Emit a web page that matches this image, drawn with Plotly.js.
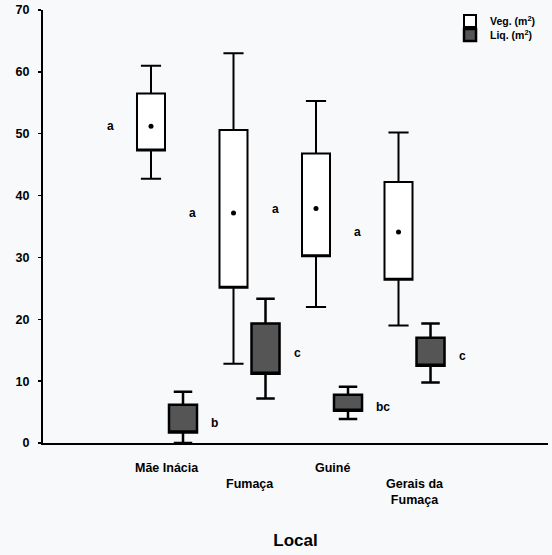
<!DOCTYPE html>
<html>
<head>
<meta charset="utf-8">
<script src="https://cdn.plot.ly/plotly-3.0.1.min.js"></script>
<style>html,body{margin:0;padding:0;background:#f8f9fb;}</style>
</head>
<body>
<div id="chart" style="width:552px;height:555px;"></div>
<script>
// ---- data ----
const categories = ['Mãe Inácia', 'Fumaça', 'Guiné', 'Gerais da Fumaça'];
const tickLabels = ['Mãe Inácia', 'Fumaça', 'Guiné', 'Gerais da<br>Fumaça'];
const tickRow    = [0, 1, 0, 1];   // staggered label rows

const vegUpper = [61.0, 63.0, 55.3, 50.2];
const vegQ3    = [56.5, 50.6, 46.8, 42.2];
const vegQ1    = [47.3, 25.1, 30.2, 26.4];
const vegLower = [42.7, 12.8, 22.0, 19.0];
const vegMean  = [51.2, 37.2, 37.9, 34.1];

const liqUpper = [8.3, 23.3, 9.1, 19.3];
const liqQ3    = [6.2, 19.3, 7.8, 17.0];
const liqQ1    = [1.7, 11.2, 5.2, 12.5];
const liqLower = [0.0, 7.2, 3.9, 9.8];

const vegLetters = ['a', 'a', 'a', 'a'];
const liqLetters = ['b', 'c', 'bc', 'c'];

// ---- layout helpers ----
const idx = categories.map((_, i) => i);
const boxgap = 0.224, boxgroupgap = 0.125;
const off = (1 - boxgap) / 4;
const font = 'Liberation Sans, Arial, sans-serif';

const veg = {
  type: 'box', name: 'Veg. (m<sup>2</sup>)', x: idx, legend: 'legend',
  q1: vegQ1, median: vegQ1, q3: vegQ3, lowerfence: vegLower, upperfence: vegUpper,
  fillcolor: '#ffffff', line: {color: '#000', width: 2}, whiskerwidth: 0.72,
  boxpoints: false, hoverinfo: 'skip'
};
const liq = {
  type: 'box', name: 'Liq. (m<sup>2</sup>)', x: idx, legend: 'legend2',
  q1: liqQ1, median: liqQ1, q3: liqQ3, lowerfence: liqLower, upperfence: liqUpper,
  fillcolor: '#555555', line: {color: '#000', width: 2.5}, whiskerwidth: 0.66,
  boxpoints: false, hoverinfo: 'skip'
};
const means = {
  type: 'scatter', mode: 'markers', showlegend: false,
  x: idx.map(i => i - off), y: vegMean,
  marker: {color: '#000', size: 5, symbol: 'circle'}, hoverinfo: 'skip'
};

const annotations = [];
idx.forEach(i => {
  annotations.push({x: i - off, y: vegMean[i], xref: 'x', yref: 'y', text: vegLetters[i],
    showarrow: false, xshift: -41, font: {family: font, size: 12, color: '#000', weight: 'bold'}});
  annotations.push({x: i + off, y: (liqQ1[i] + liqQ3[i]) / 2, xref: 'x', yref: 'y', text: liqLetters[i],
    showarrow: false, xanchor: 'left', xshift: 26, yshift: -4, font: {family: font, size: 12, color: '#000', weight: 'bold'}});
  annotations.push({x: i, y: 0, xref: 'x', yref: 'y', text: tickLabels[i], yanchor: 'top',
    yshift: -16 - 16 * tickRow[i], showarrow: false, align: 'center',
    font: {family: font, size: 12.5, color: '#000', weight: 'bold'}});
});

const legendFont = {size: 10.5, family: font, weight: 'bold', color: '#000'};
const layout = {
  width: 552, height: 555,
  margin: {l: 43, r: 4, t: 10, b: 112},
  paper_bgcolor: '#f8f9fb', plot_bgcolor: '#f8f9fb',
  boxmode: 'group', boxgap: boxgap, boxgroupgap: boxgroupgap,
  font: {family: font, color: '#000', weight: 'bold'},
  showlegend: true,
  legend: {x: 0.806, y: 1.008, xanchor: 'left', yanchor: 'top', bgcolor: 'rgba(0,0,0,0)', font: legendFont},
  legend2: {x: 0.806, y: 0.976, xanchor: 'left', yanchor: 'top', bgcolor: 'rgba(0,0,0,0)', font: legendFont},
  xaxis: {
    range: [-1.503, 4.618], showticklabels: false,
    showgrid: false, zeroline: false, showline: true, linecolor: '#000', linewidth: 2,
    ticks: '',
    title: {text: 'Local', font: {size: 17, family: font, weight: 'bold'}, standoff: 90}
  },
  yaxis: {
    range: [0, 70], tickvals: [0, 10, 20, 30, 40, 50, 60, 70],
    showgrid: false, zeroline: false, showline: true, linecolor: '#000', linewidth: 2,
    ticks: 'outside', ticklen: 3, tickwidth: 1.5, tickcolor: '#000', ticklabelstandoff: 6,
    tickfont: {size: 12.5, family: font, weight: 'bold'}
  },
  annotations: annotations
};

Plotly.newPlot('chart', [veg, liq, means], layout, {displayModeBar: false, staticPlot: true});
</script>
</body>
</html>
